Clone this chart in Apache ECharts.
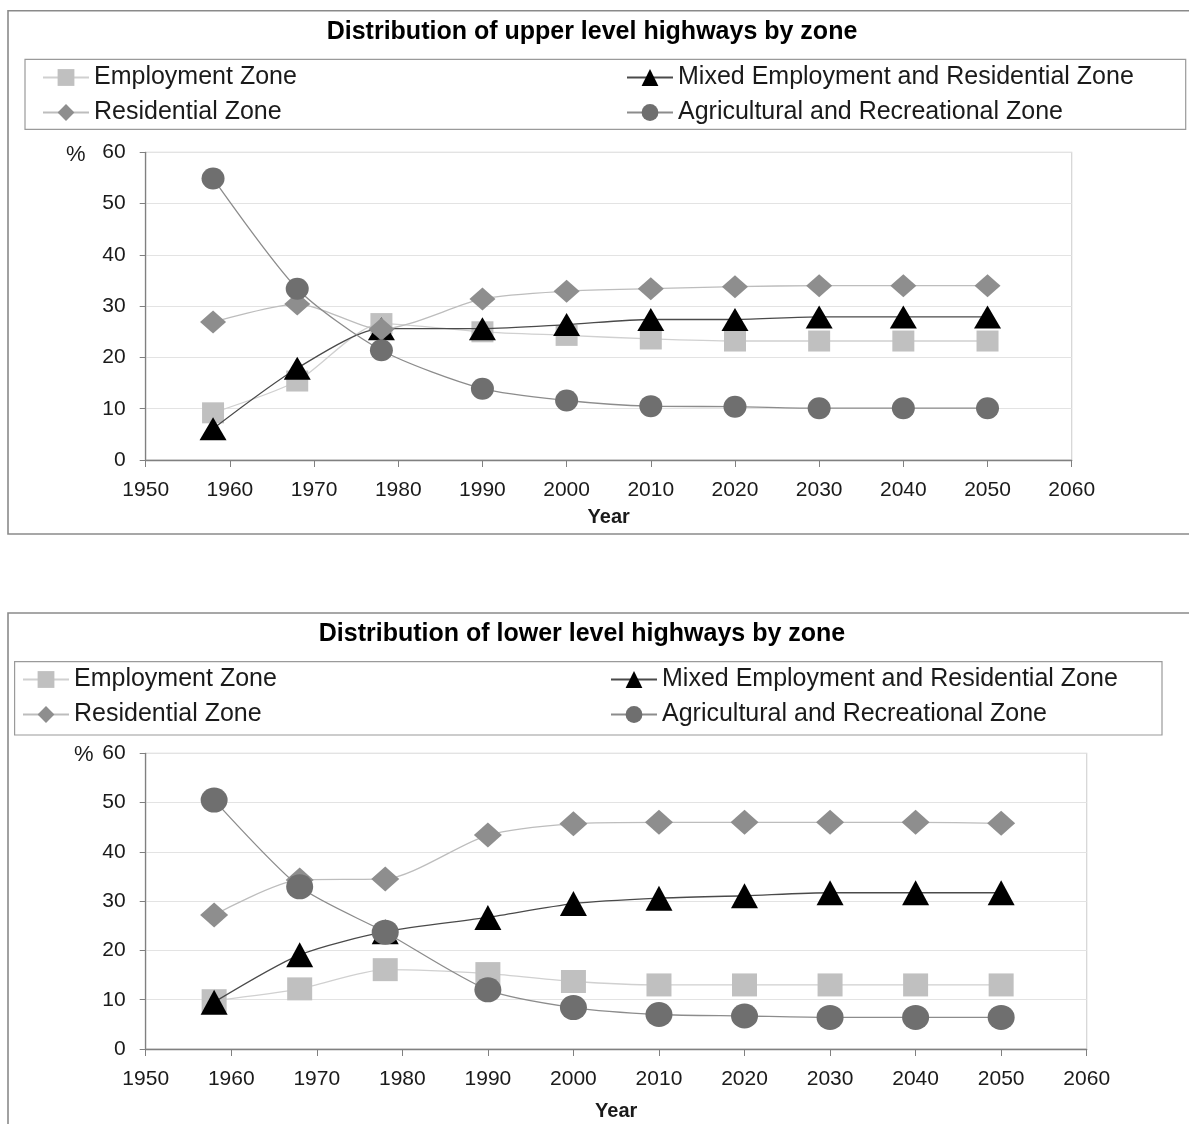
<!DOCTYPE html>
<html>
<head>
<meta charset="utf-8">
<title>Distribution of highways by zone</title>
<script src="https://cdn.jsdelivr.net/npm/echarts@6/dist/echarts.min.js"></script>
<style>
  html, body { margin: 0; padding: 0; background: #ffffff; }
  #chart { width: 1189px; height: 1124px; }
</style>
</head>
<body>
<div id="chart"></div>
<script>
// Survey years shared by both panels
const years = [1958, 1968, 1978, 1990, 2000, 2010, 2020, 2030, 2040, 2050];

// Zone names (series order also sets drawing order)
const zoneNames = [
  'Employment Zone',
  'Mixed Employment and Residential Zone',
  'Residential Zone',
  'Agricultural and Recreational Zone'
];

// Upper level highways, % by zone
const upperEmployment   = [9.2, 15.4, 26.6, 25.0, 24.3, 23.6, 23.2, 23.2, 23.2, 23.2];
const upperMixed        = [6.1, 17.9, 25.6, 25.6, 26.4, 27.4, 27.4, 27.9, 27.9, 27.9];
const upperResidential  = [26.9, 30.4, 25.5, 31.4, 32.9, 33.4, 33.8, 34.0, 34.0, 34.0];
const upperAgricultural = [54.9, 33.4, 21.4, 13.9, 11.6, 10.5, 10.4, 10.1, 10.1, 10.1];

// Lower level highways, % by zone
const lowerEmployment   = [9.8, 12.2, 16.1, 15.3, 13.7, 13.0, 13.0, 13.0, 13.0, 13.0];
const lowerMixed        = [9.5, 19.1, 23.8, 26.7, 29.5, 30.6, 31.1, 31.7, 31.7, 31.7];
const lowerResidential  = [27.2, 34.3, 34.5, 43.4, 45.7, 46.0, 46.0, 46.0, 46.0, 45.8];
const lowerAgricultural = [50.5, 32.9, 23.7, 12.0, 8.4, 7.0, 6.7, 6.4, 6.4, 6.4];

// Axis ranges and tick steps
const xMin = 1950, xMax = 2060, xStep = 10;
const yMin = 0, yMax = 60, yStep = 10;

const FONT = '"Liberation Sans", Arial, sans-serif';
const TEXT = '#1a1a1a';

// Marker / line look for each zone
const zoneStyle = [
  { symbol: 'rect',     fill: '#c0c0c0', line: '#d0d0d0' },
  { symbol: 'triangle', fill: '#000000', line: '#4a4a4a' },
  { symbol: 'diamond',  fill: '#8e8e8e', line: '#bdbdbd' },
  { symbol: 'circle',   fill: '#6f6f6f', line: '#8c8c8c' }
];
const upperSizes = [[22, 21], [27, 23], [26, 23], [23, 22]];
const lowerSizes = [[25, 23], [27, 25], [28, 25], [27, 25]];

function zoneSeries(values, idx, axisIdx, size) {
  const st = zoneStyle[idx];
  return {
    name: zoneNames[idx],
    type: 'line',
    xAxisIndex: axisIdx,
    yAxisIndex: axisIdx,
    data: years.map((yr, i) => [yr, values[i]]),
    symbol: st.symbol,
    symbolSize: size,
    showAllSymbol: true,
    smooth: 0.25,
    z: 2 + idx,
    lineStyle: { color: st.line, width: 1.3 },
    itemStyle: { color: st.fill, borderWidth: 0 },
    emphasis: { disabled: true }
  };
}

function xAxisFor(gridIndex, nameGap) {
  return {
    type: 'value', gridIndex: gridIndex,
    min: xMin, max: xMax, interval: xStep,
    name: 'Year', nameLocation: 'middle', nameGap: nameGap,
    nameTextStyle: { fontFamily: FONT, fontWeight: 'bold', fontSize: 20, color: TEXT },
    axisLine: { show: true, lineStyle: { color: '#808080', width: 1.3 } },
    axisTick: { show: true, inside: false, length: 7, lineStyle: { color: '#808080' } },
    axisLabel: { fontFamily: FONT, fontSize: 21, color: TEXT, margin: 20,
                 formatter: (v) => String(v) },
    splitLine: { show: false }
  };
}

function yAxisFor(gridIndex) {
  return {
    type: 'value', gridIndex: gridIndex,
    min: yMin, max: yMax, interval: yStep,
    axisLine: { show: true, lineStyle: { color: '#808080', width: 1.3 } },
    axisTick: { show: true, inside: false, length: 6, lineStyle: { color: '#808080' } },
    axisLabel: { fontFamily: FONT, fontSize: 21, color: TEXT, margin: 20 },
    splitLine: { show: true, lineStyle: { color: '#e3e3e3', width: 1.2 } }
  };
}

function legendColumn(names, left, top) {
  return {
    data: names,
    orient: 'vertical',
    left: left, top: top,
    padding: 0,
    itemWidth: 46, itemHeight: 21, itemGap: 10,
    textStyle: { fontFamily: FONT, fontSize: 25, color: TEXT, lineHeight: 25 }
  };
}

const option = {
  animation: false,
  backgroundColor: '#ffffff',
  title: [
    { text: 'Distribution of upper level highways by zone', left: 587, top: 15, textAlign: 'center',
      textStyle: { fontFamily: FONT, fontWeight: 'bold', fontSize: 25, color: '#000' } },
    { text: 'Distribution of lower level highways by zone', left: 577, top: 617, textAlign: 'center',
      textStyle: { fontFamily: FONT, fontWeight: 'bold', fontSize: 25, color: '#000' } }
  ],
  legend: [
    legendColumn([zoneNames[0], zoneNames[2]], 42, 65),
    legendColumn([zoneNames[1], zoneNames[3]], 626, 65),
    legendColumn([zoneNames[0], zoneNames[2]], 22, 667),
    legendColumn([zoneNames[1], zoneNames[3]], 610, 667)
  ],
  grid: [
    { left: 145.7, top: 152.3, width: 926, height: 307.7, show: true,
      borderColor: '#d4d4d4', borderWidth: 1.2, backgroundColor: 'transparent' },
    { left: 145.7, top: 753.3, width: 941, height: 295.7, show: true,
      borderColor: '#d4d4d4', borderWidth: 1.2, backgroundColor: 'transparent' }
  ],
  xAxis: [xAxisFor(0, 47), xAxisFor(1, 52)],
  yAxis: [yAxisFor(0), yAxisFor(1)],
  graphic: [
    // outer frames of the two panels
    { type: 'rect', shape: { x: 8, y: 10.7, width: 1200, height: 523.3 },
      style: { fill: null, stroke: '#8a8a8a', lineWidth: 1.6 }, silent: true, z: -1 },
    { type: 'rect', shape: { x: 8, y: 613, width: 1200, height: 600 },
      style: { fill: null, stroke: '#8a8a8a', lineWidth: 1.6 }, silent: true, z: -1 },
    // legend boxes
    { type: 'rect', shape: { x: 25, y: 59.3, width: 1160.7, height: 70 },
      style: { fill: null, stroke: '#9a9a9a', lineWidth: 1.2 }, silent: true, z: -1 },
    { type: 'rect', shape: { x: 14.6, y: 661.7, width: 1147.4, height: 73.3 },
      style: { fill: null, stroke: '#9a9a9a', lineWidth: 1.2 }, silent: true, z: -1 },
    // unit labels
    { type: 'text', left: 66, top: 144, style: { text: '%', fontFamily: FONT, fontSize: 22, fill: TEXT } },
    { type: 'text', left: 74, top: 744, style: { text: '%', fontFamily: FONT, fontSize: 22, fill: TEXT } }
  ],
  series: [
    zoneSeries(upperEmployment, 0, 0, upperSizes[0]),
    zoneSeries(upperMixed, 1, 0, upperSizes[1]),
    zoneSeries(upperResidential, 2, 0, upperSizes[2]),
    zoneSeries(upperAgricultural, 3, 0, upperSizes[3]),
    zoneSeries(lowerEmployment, 0, 1, lowerSizes[0]),
    zoneSeries(lowerMixed, 1, 1, lowerSizes[1]),
    zoneSeries(lowerResidential, 2, 1, lowerSizes[2]),
    zoneSeries(lowerAgricultural, 3, 1, lowerSizes[3])
  ]
};

const chart = echarts.init(document.getElementById('chart'), null, { renderer: 'canvas' });
chart.setOption(option);
</script>
</body>
</html>
